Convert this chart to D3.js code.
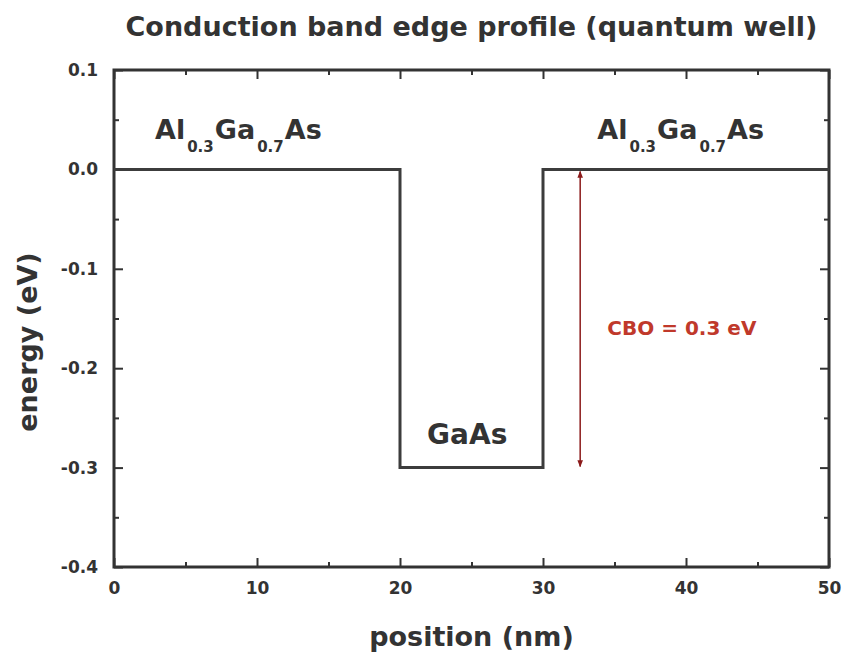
<!DOCTYPE html>
<html>
<head>
<meta charset="utf-8">
<script src="https://cdn.jsdelivr.net/npm/d3@7"></script>
<style>
  body { margin: 0; background: #fff; }
  svg text { font-family: "DejaVu Sans", Verdana, sans-serif; font-weight: bold; fill: #333; }
  .axis path { display: none; }
  .axis line { stroke: #333; stroke-width: 2; }
  .axis text { font-size: 17px; font-family: "DejaVu Sans", sans-serif; font-weight: bold; fill: #333; }
</style>
</head>
<body>
<script>
// band edge profile (position in nm, energy in eV)
const positions = [0, 20, 20, 30, 30, 50];
const energies = [0, 0, -0.3, -0.3, 0, 0];

// tick values
const xMajor = [0, 10, 20, 30, 40, 50];
const xMinor = [5, 15, 25, 35, 45];
const yMajor = [0.1, 0.0, -0.1, -0.2, -0.3, -0.4];
const yMinor = [0.05, -0.05, -0.15, -0.25, -0.35];

// CBO arrow: x position and its two ends
const cboX = 32.6;
const cboEnds = [0, -0.3];

const W = 845, H = 654;
const m = { top: 70, right: 16, bottom: 87, left: 114 };
const w = W - m.left - m.right;
const h = H - m.top - m.bottom;

const svg = d3.select("body").append("svg")
    .attr("width", W)
    .attr("height", H);

const defs = svg.append("defs");
// arrow heads for the CBO marker
defs.append("marker")
    .attr("id", "head")
    .attr("viewBox", "0 0 10 10")
    .attr("refX", 9).attr("refY", 5)
    .attr("markerWidth", 7).attr("markerHeight", 7)
    .attr("markerUnits", "userSpaceOnUse")
    .attr("orient", "auto-start-reverse")
    .append("path")
    .attr("d", "M0,1 L10,5 L0,9 Z")
    .attr("fill", "#8b1a1a");

const g = svg.append("g").attr("transform", "translate(" + m.left + "," + m.top + ")");

const x = d3.scaleLinear().domain([0, 50]).range([0, w]);
const y = d3.scaleLinear().domain([-0.4, 0.1]).range([h, 0]);

// bottom axis with labels, ticks pointing inside
g.append("g")
    .attr("class", "axis")
    .attr("transform", "translate(0," + h + ")")
    .call(d3.axisBottom(x).tickValues(xMajor).tickSizeInner(-9).tickSizeOuter(0).tickPadding(15).tickFormat(d => d));
g.append("g")
    .attr("class", "axis")
    .attr("transform", "translate(0," + h + ")")
    .call(d3.axisBottom(x).tickValues(xMinor).tickSizeInner(-5).tickSizeOuter(0).tickFormat(""));

// top mirror ticks
g.append("g").attr("class", "axis")
    .call(d3.axisTop(x).tickValues(xMajor).tickSizeInner(-9).tickSizeOuter(0).tickFormat(""));
g.append("g").attr("class", "axis")
    .call(d3.axisTop(x).tickValues(xMinor).tickSizeInner(-5).tickSizeOuter(0).tickFormat(""));

// left axis
g.append("g").attr("class", "axis")
    .call(d3.axisLeft(y).tickValues(yMajor).tickSizeInner(-9).tickSizeOuter(0).tickPadding(16).tickFormat(d => d.toFixed(1)));
g.append("g").attr("class", "axis")
    .call(d3.axisLeft(y).tickValues(yMinor).tickSizeInner(-5).tickSizeOuter(0).tickFormat(""));

// right mirror ticks
g.append("g").attr("class", "axis")
    .attr("transform", "translate(" + w + ",0)")
    .call(d3.axisRight(y).tickValues(yMajor).tickSizeInner(-9).tickSizeOuter(0).tickFormat(""));
g.append("g").attr("class", "axis")
    .attr("transform", "translate(" + w + ",0)")
    .call(d3.axisRight(y).tickValues(yMinor).tickSizeInner(-5).tickSizeOuter(0).tickFormat(""));

// frame
g.append("rect")
    .attr("x", 0).attr("y", 0)
    .attr("width", w).attr("height", h)
    .attr("fill", "none")
    .attr("stroke", "#333")
    .attr("stroke-width", 3);

// the band edge
const line = d3.line()
    .x((d, i) => x(positions[i]))
    .y((d, i) => y(energies[i]));

g.append("path")
    .datum(positions)
    .attr("d", line)
    .attr("fill", "none")
    .attr("stroke", "#3c3c3c")
    .attr("stroke-width", 3);

// CBO arrow
g.append("line")
    .attr("x1", x(cboX)).attr("x2", x(cboX))
    .attr("y1", y(cboEnds[0]) + 2).attr("y2", y(cboEnds[1]) - 1)
    .attr("stroke", "#8b1a1a")
    .attr("stroke-width", 1.5)
    .attr("marker-start", "url(#head)")
    .attr("marker-end", "url(#head)");

g.append("text")
    .attr("x", x(34.5)).attr("y", y(-0.167))
    .style("font-size", "20px")
    .style("fill", "#c0392b")
    .text("CBO = 0.3 eV");

// material labels
function alLabel(xv, yv) {
    const t = g.append("text")
        .attr("x", x(xv)).attr("y", y(yv))
        .style("font-size", "27px");
    t.append("tspan").text("Al");
    t.append("tspan").attr("dy", 13).attr("dx", 2).style("font-size", "15px").text("0.3");
    t.append("tspan").attr("dy", -13).attr("dx", 1).text("Ga");
    t.append("tspan").attr("dy", 13).attr("dx", 2).style("font-size", "15px").text("0.7");
    t.append("tspan").attr("dy", -13).attr("dx", 1).text("As");
}
alLabel(2.87, 0.031);
alLabel(33.8, 0.031);

g.append("text")
    .attr("x", x(24.7)).attr("y", y(-0.276))
    .attr("text-anchor", "middle")
    .style("font-size", "28px")
    .text("GaAs");

// title and axis titles
svg.append("text")
    .attr("x", m.left + w / 2).attr("y", 36)
    .attr("text-anchor", "middle")
    .style("font-size", "27px")
    .text("Conduction band edge profile (quantum well)");

svg.append("text")
    .attr("x", m.left + w / 2).attr("y", 646)
    .attr("text-anchor", "middle")
    .style("font-size", "27px")
    .text("position (nm)");

svg.append("text")
    .attr("transform", "translate(37,342) rotate(-90)")
    .attr("text-anchor", "middle")
    .style("font-size", "27px")
    .text("energy (eV)");
</script>
</body>
</html>
